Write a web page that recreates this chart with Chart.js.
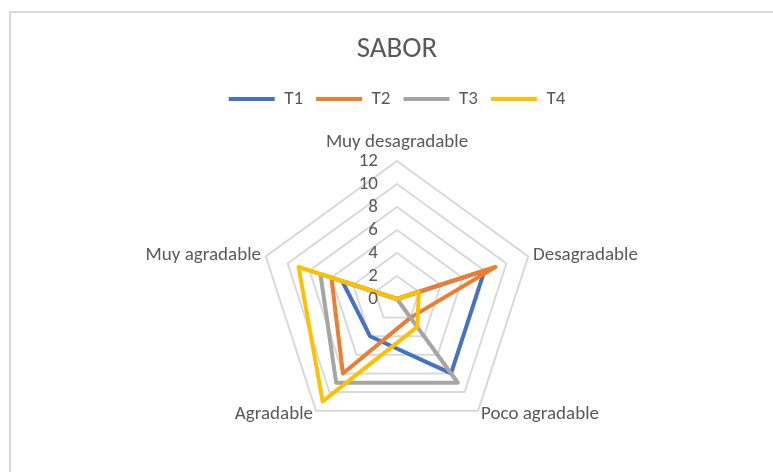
<!DOCTYPE html>
<html>
<head>
<meta charset="utf-8">
<script src="https://cdn.jsdelivr.net/npm/chart.js@4/dist/chart.umd.min.js"></script>
<style>
  body { margin: 0; background: #fff; }
  #wrap { position: relative; width: 773px; height: 472px; overflow: hidden; }
  #frame { position: absolute; left: 9px; top: 11px; width: 900px; height: 600px;
           border-left: 2px solid #d9d9d9; border-top: 2px solid #d9d9d9; }
  canvas { position: absolute; left: 0; top: 0; }
</style>
</head>
<body>
<div id="wrap">
  <div id="frame"></div>
  <canvas id="saborChart" width="773" height="472"></canvas>
</div>
<script>
const categories = ['Muy desagradable', 'Desagradable', 'Poco agradable', 'Agradable', 'Muy agradable'];
const seriesNames = ['T1', 'T2', 'T3', 'T4'];
const t1Values = [0, 8, 8, 4, 5];
const t2Values = [0, 9, 2, 8, 6];
const t3Values = [0, 0, 9, 9, 7];
const t4Values = [0, 2, 3, 11, 9];
const tickLabels = ['0', '2', '4', '6', '8', '10', '12'];

const FONT = 'Carlito, Calibri, Lato, sans-serif';
const TEXT = '#595959';
const colors = ['#4472C4', '#ED7D31', '#A5A5A5', '#FFC000'];

// Excel-style labels: ticks left of the top axis, category names outside the vertices
const radarText = {
  id: 'radarText',
  afterDraw(chart) {
    const scale = chart.scales.r;
    const ctx = chart.ctx;
    ctx.save();
    ctx.fillStyle = TEXT;
    ctx.font = '19px ' + FONT;
    ctx.textAlign = 'right';
    ctx.textBaseline = 'middle';
    tickLabels.forEach(t => {
      const d = scale.getDistanceFromCenterForValue(Number(t));
      ctx.fillText(t, scale.xCenter - 19, scale.yCenter - d);
    });
    categories.forEach((name, i) => {
      const pad = i === 0 ? 19 : 5;
      const p = scale.getPointPosition(i, scale.drawingArea + pad);
      ctx.textAlign = i === 0 ? 'center' : (i <= 2 ? 'left' : 'right');
      ctx.fillText(name, p.x, p.y);
    });
    ctx.restore();
  }
};

const ctx = document.getElementById('saborChart').getContext('2d');
new Chart(ctx, {
  type: 'radar',
  data: {
    labels: categories,
    datasets: [t1Values, t2Values, t3Values, t4Values].map((vals, i) => ({
      label: seriesNames[i],
      data: vals,
      order: 4 - i, // later series on top, like Excel
      borderColor: colors[i],
      backgroundColor: colors[i],
      borderWidth: 4,
      borderJoinStyle: 'round',
      borderCapStyle: 'round',
      fill: false,
      pointRadius: 0,
      pointHoverRadius: 0,
      tension: 0
    }))
  },
  options: {
    responsive: false,
    animation: false,
    layout: { padding: { left: 21, right: 0, top: 22.6, bottom: 35 } },
    plugins: {
      title: {
        display: true,
        text: 'SABOR',
        color: TEXT,
        font: { family: FONT, size: 29, weight: 'normal' },
        padding: { top: 10, bottom: 9.1 }
      },
      // empty subtitle used as a spacer between legend and plot
      subtitle: {
        display: true,
        text: '',
        weight: 500,
        font: { size: 10 },
        padding: { top: 0, bottom: 30.5 }
      },
      legend: {
        position: 'top',
        labels: {
          color: TEXT,
          font: { family: FONT, size: 19 },
          boxWidth: 46,
          boxHeight: 4,
          useBorderRadius: true,
          borderRadius: 2,
          padding: 13,
          generateLabels(c) {
            return c.data.datasets.map((ds, i) => ({
              text: ds.label,
              fillStyle: ds.borderColor,
              strokeStyle: ds.borderColor,
              lineWidth: 0,
              fontColor: TEXT,
              datasetIndex: i
            }));
          }
        }
      },
      tooltip: { enabled: false }
    },
    scales: {
      r: {
        min: 0,
        max: 12,
        ticks: { stepSize: 2, display: false },
        grid: { color: '#D9D9D9', lineWidth: 2 },
        angleLines: { display: false },
        pointLabels: { display: false }
      }
    }
  },
  plugins: [radarText]
});
</script>
</body>
</html>
